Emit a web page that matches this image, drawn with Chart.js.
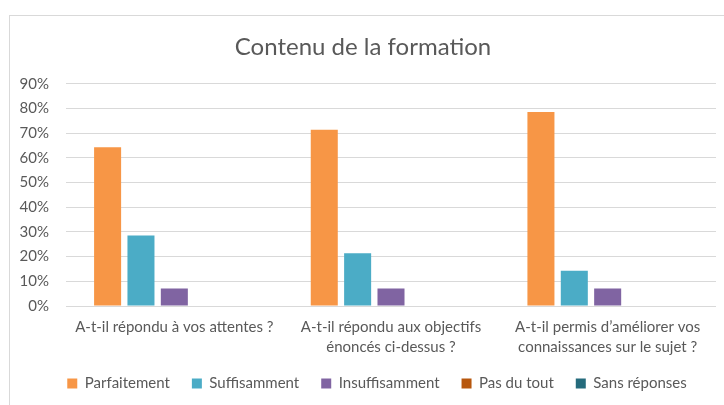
<!DOCTYPE html>
<html>
<head>
<meta charset="utf-8">
<script src="https://cdn.jsdelivr.net/npm/chart.js@4/dist/chart.umd.min.js"></script>
<style>
  html, body { margin: 0; padding: 0; background: #fff; overflow: hidden; }
  #frame {
    position: absolute; left: 9px; top: 15px; width: 740px; height: 420px;
    border-left: 1px solid #d9d9d9; border-top: 1px solid #d9d9d9;
  }
  #wrap { position: absolute; left: 0; top: 0; width: 724px; height: 389px; }
</style>
</head>
<body>
<div id="frame"><div id="wrap"><canvas id="chart"></canvas></div></div>
<script>
const questions = [
  "A-t-il répondu à vos attentes ?",
  ["A-t-il répondu aux objectifs", "énoncés ci-dessus ?"],
  ["A-t-il permis d’améliorer vos", "connaissances sur le sujet ?"]
];
const parfaitement = [0.643, 0.714, 0.786];
const suffisamment = [0.286, 0.214, 0.143];
const insuffisamment = [0.071, 0.071, 0.071];
const pasDuTout = [0, 0, 0];
const sansReponses = [0, 0, 0];
const yTicks = [0, 0.1, 0.2, 0.3, 0.4, 0.5, 0.6, 0.7, 0.8, 0.9];

const textColor = "#595959";
const font = "Lato, 'Open Sans', sans-serif";

function series(label, data, color) {
  return { label, data, backgroundColor: color, borderWidth: 0 };
}

// nudge the legend: the original chart is wider than the visible crop
const legendNudge = {
  id: "legendNudge",
  afterLayout(chart) {
    const lg = chart.legend;
    lg.left += 14; lg.right += 14;
    lg.top -= 4; lg.bottom -= 4;
  }
};

new Chart(document.getElementById("chart"), {
  type: "bar",
  data: {
    labels: questions,
    datasets: [
      series("Parfaitement", parfaitement, "#F79646"),
      series("Suffisamment", suffisamment, "#4BACC6"),
      series("Insuffisamment", insuffisamment, "#8064A2"),
      series("Pas du tout", pasDuTout, "#B7570D"),
      series("Sans réponses", sansReponses, "#256B7C")
    ]
  },
  plugins: [legendNudge],
  options: {
    responsive: true,
    maintainAspectRatio: false,
    animation: false,
    events: [],
    datasets: { bar: { categoryPercentage: 0.77, barPercentage: 0.81 } },
    layout: { padding: { left: 0, right: 18, top: 0, bottom: 0 } },
    plugins: {
      title: {
        display: true,
        text: "Contenu de la formation",
        color: textColor,
        font: { family: font, size: 24, weight: "normal", lineHeight: 1.2 },
        padding: { top: 17, bottom: 22 }
      },
      legend: {
        position: "bottom",
        labels: {
          color: textColor,
          font: { family: font, size: 15 },
          boxWidth: 10,
          boxHeight: 10,
          padding: 22
        }
      },
      tooltip: { enabled: false }
    },
    scales: {
      x: {
        afterFit: scale => { scale.height = 52; },
        grid: { display: false, drawTicks: false },
        border: { display: false },
        ticks: {
          color: textColor,
          font: { family: font, size: 15, lineHeight: 1.333 },
          padding: 11,
          maxRotation: 0
        }
      },
      y: {
        min: 0,
        max: 0.9,
        afterFit: scale => { scale.width = 56; },
        afterBuildTicks: scale => { scale.ticks = yTicks.map(v => ({ value: v })); },
        grid: { color: "#d9d9d9", lineWidth: 1, drawTicks: false },
        border: { display: false },
        ticks: {
          color: textColor,
          font: { family: font, size: 15 },
          padding: 17,
          callback: v => Math.round(v * 100) + "%"
        }
      }
    }
  }
});
</script>
</body>
</html>
